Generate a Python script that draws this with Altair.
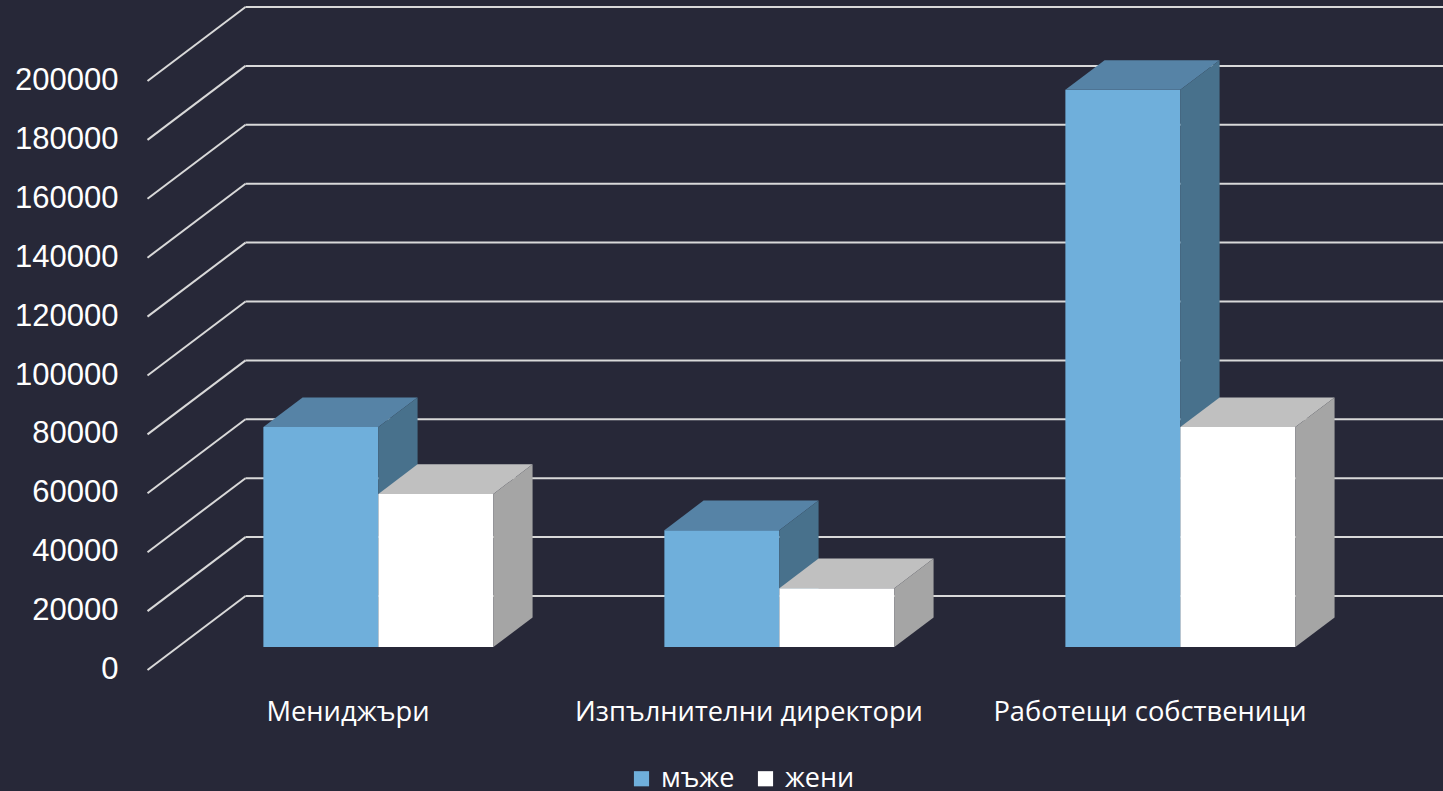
import altair as alt
import pandas as pd

# ---- data ----
categories = ["Мениджъри", "Изпълнителни директори", "Работещи собственици"]
series_names = ["мъже", "жени"]
men = [74700, 39700, 189200]
women = [52000, 20000, 74700]
tick_values = [0, 20000, 40000, 60000, 80000, 100000, 120000, 140000, 160000, 180000, 200000]

# ---- layout / style constants ----
BG = "#272838"
GRID = "#D9D9D9"
FRONT = {"мъже": "#6FAFDB", "жени": "#FFFFFF"}
TOP = {"мъже": "#5683A6", "жени": "#C0C0C0"}
SIDE = {"мъже": "#48718C", "жени": "#A5A5A5"}

PAD_LEFT = 147
W_TOTAL, H_TOTAL = 1443, 791
PLOT_W = W_TOTAL - PAD_LEFT
PX_CAT = 401.0                    # px per category step
K = 589.0 / 200000.0              # px per value unit
X0_PX = 201.0                     # first category centre, px from plot left
Y0_PX = 670.0                     # value 0 on the front plane, px from top
X_MIN = -X0_PX / PX_CAT
X_MAX = (PLOT_W - X0_PX) / PX_CAT
Y_MIN = -(H_TOTAL - Y0_PX) / K
Y_MAX = Y0_PX / K
DEPTH_X = 98.0 / PX_CAT           # full floor depth
DEPTH_Y = 74.0 / K
BAR_W = 115.0 / PX_CAT
BAR_POS = 0.31                    # front face position inside the depth
BAR_DEPTH = 0.40                  # bar thickness as a fraction of the depth
LABEL_Y = -(721.0 - Y0_PX) / K

# ---- tables built from the arrays ----
ticks_df = pd.DataFrame({"v": tick_values})
ticks_df["label"] = ticks_df["v"].astype(str)
ticks_df["x_front"] = -0.5
ticks_df["x_back"] = -0.5 + DEPTH_X
ticks_df["x_end"] = X_MAX
ticks_df["y_back"] = ticks_df["v"] + DEPTH_Y

sx, sy = BAR_POS * DEPTH_X, BAR_POS * DEPTH_Y
dx, dy = BAR_DEPTH * DEPTH_X, BAR_DEPTH * DEPTH_Y

front_rows, top_rows, side_rows = [], [], []
for i, cat in enumerate(categories):
    for s, (name, vals) in enumerate(zip(series_names, [men, women])):
        val = vals[i]
        left = i + sx - BAR_W + s * BAR_W
        right = left + BAR_W
        base = sy
        top = sy + val
        bid = f"{i}-{s}"
        front_rows.append(dict(id=bid, series=name, x=left, x2=right, y=base, y2=top))
        for px, ya, yb in [(left, top, top), (left + dx, top, top + dy),
                           (right, top, top + dy), (right + dx, top + dy, top + dy)]:
            top_rows.append(dict(id=bid, series=name, x=px, y=ya, y2=yb))
        for px, ya, yb in [(right, base, top), (right + dx, base + dy, top + dy)]:
            side_rows.append(dict(id=bid, series=name, x=px, y=ya, y2=yb))

front_df = pd.DataFrame(front_rows)
top_df = pd.DataFrame(top_rows)
side_df = pd.DataFrame(side_rows)
cat_df = pd.DataFrame({"cat": categories, "i": list(range(len(categories)))})
cat_df["y"] = LABEL_Y

xs = alt.Scale(domain=[X_MIN, X_MAX], nice=False, zero=False)
ys = alt.Scale(domain=[Y_MIN, Y_MAX], nice=False, zero=False)
color_scale = alt.Scale(domain=series_names, range=[FRONT[n] for n in series_names])

# ---- grid ----
diag = alt.Chart(ticks_df).mark_rule(color=GRID, strokeWidth=2).encode(
    x=alt.X("x_front:Q", scale=xs, axis=None),
    x2="x_back:Q",
    y=alt.Y("v:Q", scale=ys, axis=None),
    y2="y_back:Q",
)
back = alt.Chart(ticks_df).mark_rule(color=GRID, strokeWidth=2).encode(
    x=alt.X("x_back:Q", scale=xs, axis=None),
    x2="x_end:Q",
    y=alt.Y("y_back:Q", scale=ys, axis=None),
)
ylabels = alt.Chart(ticks_df).mark_text(font="Liberation Sans", fontSize=31, color="#FFFFFF",
                                        align="right", baseline="middle", dx=-29).encode(
    x=alt.X("x_front:Q", scale=xs, axis=None),
    y=alt.Y("v:Q", scale=ys, axis=None),
    text="label:N",
)

layers = [diag, back, ylabels]
for s, name in enumerate(series_names):
    f = alt.Chart(front_df[front_df.series == name]).mark_rect(strokeWidth=0).encode(
        x=alt.X("x:Q", scale=xs, axis=None),
        x2="x2:Q",
        y=alt.Y("y:Q", scale=ys, axis=None),
        y2="y2:Q",
        color=alt.Color("series:N", scale=color_scale, title=None,
                        legend=alt.Legend(orient="none", direction="horizontal",
                                          legendX=481, legendY=765,
                                          symbolType="square", symbolSize=230,
                                          symbolStrokeWidth=0, symbolOpacity=1,
                                          labelFontSize=27, labelFont="Open Sans",
                                          labelColor="#FFFFFF", labelOffset=6,
                                          columnPadding=17)),
    )
    t = alt.Chart(top_df[top_df.series == name]).mark_area(color=TOP[name], opacity=1).encode(
        x=alt.X("x:Q", scale=xs, axis=None),
        y=alt.Y("y:Q", scale=ys, axis=None, stack=None),
        y2="y2:Q",
        detail="id:N",
    )
    sd = alt.Chart(side_df[side_df.series == name]).mark_area(color=SIDE[name], opacity=1).encode(
        x=alt.X("x:Q", scale=xs, axis=None),
        y=alt.Y("y:Q", scale=ys, axis=None, stack=None),
        y2="y2:Q",
        detail="id:N",
    )
    layers += [f, t, sd]

labels = alt.Chart(cat_df).mark_text(font="Open Sans", fontSize=27.3, color="#FFFFFF",
                                     baseline="alphabetic", align="center").encode(
    x=alt.X("i:Q", scale=xs, axis=None),
    y=alt.Y("y:Q", scale=ys, axis=None),
    text="cat:N",
)
layers.append(labels)

chart = alt.layer(*layers).properties(
    width=PLOT_W, height=H_TOTAL,
    autosize=alt.AutoSizeParams(type="none"),
    padding={"left": PAD_LEFT, "top": 0, "right": 0, "bottom": 0},
    background=BG,
).configure_view(strokeWidth=0)

chart.save("out.html", embed_options={"renderer": "svg", "actions": False})
